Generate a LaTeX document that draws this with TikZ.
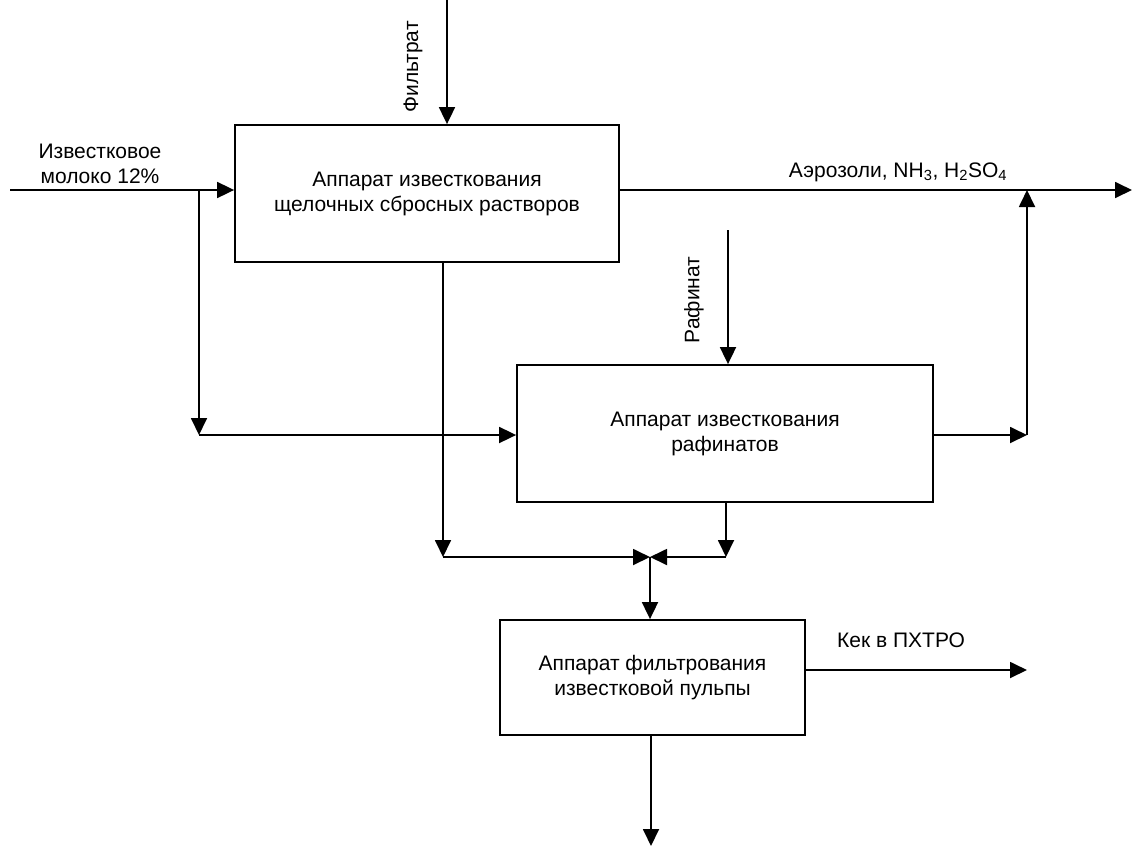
\documentclass[tikz,border=0pt]{standalone}
\usepackage{fontspec}
\setmainfont{Liberation Sans}
\usetikzlibrary{arrows.meta,positioning}
\tikzset{
  apparat/.style={draw=black,line width=1.8pt,align=center,inner sep=0pt,font=\fontsize{21}{25}\selectfont},
  flowtext/.style={align=center,inner sep=0pt,font=\fontsize{21}{25}\selectfont},
  flow/.style={-{Triangle[length=17pt,width=16pt]},line width=1.8pt},
}

\begin{document}
\begin{tikzpicture}[x=1pt,y=-1pt]
    \useasboundingbox (0,0) rectangle (1132,847);
    \node[apparat,minimum width=384pt,minimum height=137pt] (a1) at (427,193.5) {Аппарат известкования\\щелочных сбросных растворов};
    \node[apparat,minimum width=416pt,minimum height=137pt] (a2) at (725,433.5) {Аппарат известкования\\рафинатов};
    \node[apparat,minimum width=305pt,minimum height=115pt] (a3) at (652.5,677.5) {Аппарат фильтрования\\известковой пульпы};
    \node[flowtext] (tmilk) at (100,164) {Известковое\\молоко 12\%};
    \node[flowtext,rotate=90] (tfiltr) at (413,67) {Фильтрат};
    \node[flowtext,rotate=90] (traf) at (694,300) {Рафинат};
    \node[flowtext] (taer) at (898,172) {Аэрозоли, NH\textsubscript{3}, H\textsubscript{2}SO\textsubscript{4}};
    \node[flowtext] (tkek) at (901,640) {Кек в ПХТРО};
    \coordinate (in) at (10,190);
    \coordinate (split) at (199,190);
    \coordinate (corner1) at (199,435);
    \coordinate (filtr) at (447,0);
    \coordinate (raf) at (728,230);
    \coordinate (out1) at (1132,190);
    \coordinate (riser) at (1027,435);
    \coordinate (left2) at (443,557);
    \coordinate (merge) at (650,557);
    \coordinate (right2) at (726,557);
    \coordinate (kek) at (1027,670);
    \coordinate (pulp) at (651,846);
    \draw[flow] (in) -- (in -| a1.west);
    \draw[flow] (split) -- (corner1);
    \draw[flow] (corner1) -- (corner1 -| a2.west);
    \draw[flow] (filtr) -- (filtr |- a1.north);
    \draw[flow] (raf) -- (raf |- a2.north);
    \draw[flow] (out1 -| a1.east) -- (out1);
    \draw[flow] (riser -| a2.east) -- (riser);
    \draw[flow] (riser) -- (riser |- out1);
    \draw[flow] (left2 |- a1.south) -- (left2);
    \draw[flow] (left2) -- (merge);
    \draw[flow] (right2 |- a2.south) -- (right2);
    \draw[flow] (right2) -- (merge);
    \draw[flow] (merge) -- (merge |- a3.north);
    \draw[flow] (kek -| a3.east) -- (kek);
    \draw[flow] (pulp |- a3.south) -- (pulp);
\end{tikzpicture}
\end{document}
